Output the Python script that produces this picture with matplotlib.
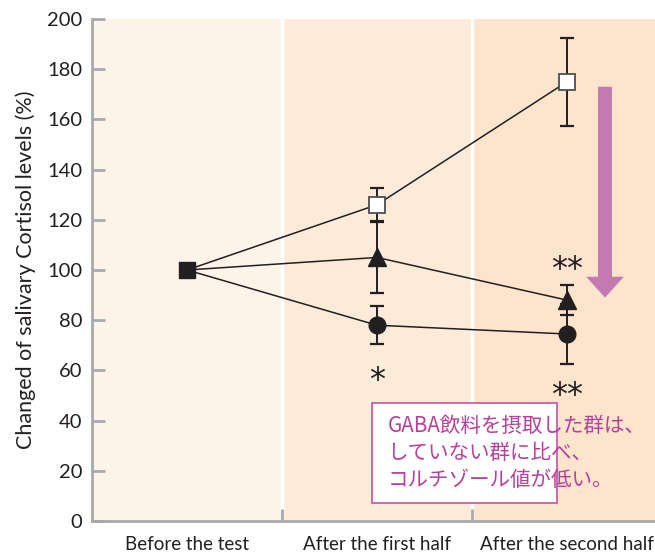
import matplotlib.pyplot as plt
from matplotlib.patches import Rectangle

phases = ['Before the test', 'After the first half', 'After the second half']
xpos = [0.5, 1.5, 2.5]

# GABA not taken (open square)
ctrl = [100, 126, 175]
ctrl_err = [0, 6.5, 17.5]
# triangle group
tri = [100, 105, 88]
tri_err = [0, 14, 6]
# circle group
circ = [100, 78, 74.5]
circ_err = [0, 7.5, 12]

band_colors = ['#FDF3E8', '#FDEBDA', '#FCE4CD']
dark = '#231F20'
gray = '#A7A9AC'
pink = '#B8409A'

plt.rcParams['font.family'] = ['Lato', 'DejaVu Sans']

fig = plt.figure(figsize=(6.55, 5.53), dpi=100)
ax = fig.add_axes([92/655, 32/553, 570/655, 502/553])
ax.set_xlim(0, 3)
ax.set_ylim(0, 200)

for i, c in enumerate(band_colors):
    ax.axvspan(i, i + 1, color=c, lw=0, zorder=0)
for b in [1, 2]:
    ax.axvline(b, color='white', lw=2.5, zorder=1)

for vals, errs in [(ctrl, ctrl_err), (tri, tri_err), (circ, circ_err)]:
    ax.errorbar(xpos, vals, yerr=errs, color=dark, capsize=5, capthick=1.6,
                elinewidth=1.4, zorder=3, fmt='none')
    ax.plot(xpos, vals, color=dark, lw=1.1, zorder=4)

ax.plot(xpos[1:], tri[1:], ls='none', marker='^', ms=13, color=dark, zorder=5)
ax.plot(xpos[1:], circ[1:], ls='none', marker='o', ms=12, color=dark, zorder=5)
ax.plot(xpos[1:], ctrl[1:], ls='none', marker='s', ms=11, mfc='white', mec='#4D4D4F',
        mew=1.3, zorder=6)
ax.plot(xpos[0], ctrl[0], ls='none', marker='s', ms=11, color=dark, zorder=6)

ax.text(1.5, 56, '*', ha='center', va='center', fontsize=23, color=dark, family='DejaVu Sans')
ax.text(2.5, 100, '**', ha='center', va='center', fontsize=23, color=dark, family='DejaVu Sans')
ax.text(2.5, 50, '**', ha='center', va='center', fontsize=23, color=dark, family='DejaVu Sans')

ax.annotate('', xy=(2.70, 89), xytext=(2.70, 173),
            arrowprops=dict(arrowstyle='simple,head_width=27,head_length=15,tail_width=10',
                            mutation_scale=1, color='#C479B0', shrinkA=0, shrinkB=0, lw=0),
            zorder=4)

ax.add_patch(Rectangle((1.474, 7), 0.974, 40, facecolor='white', edgecolor='#C7529F',
                       lw=1.2, zorder=7))
ax.text(1.555, 27, 'GABA飲料を摂取した群は、\nしていない群に比べ、\nコルチゾール値が低い。',
        ha='left', va='center', fontsize=14.8, color=pink, linespacing=1.3,
        family=['Noto Sans CJK JP', 'DejaVu Sans'], zorder=8)

ax.set_yticks(range(0, 201, 20))
ax.set_xticks([1, 2])
ax.set_xticklabels([])
for x, lab in zip(xpos, phases):
    ax.text(x, -6, lab, ha='center', va='top', fontsize=13.5, color=dark)

ax.tick_params(axis='y', direction='in', length=9, width=2, color=gray,
               labelsize=14.5, labelcolor=dark, pad=7)
ax.tick_params(axis='x', direction='in', length=9, width=2, color=gray)
for s in ['top', 'right']:
    ax.spines[s].set_visible(False)
for s in ['left', 'bottom']:
    ax.spines[s].set_color(gray)
    ax.spines[s].set_linewidth(2)

ax.set_ylabel('Changed of salivary Cortisol levels (%)', fontsize=15.5, color=dark, labelpad=8)

fig.savefig('out.png', dpi=100)
